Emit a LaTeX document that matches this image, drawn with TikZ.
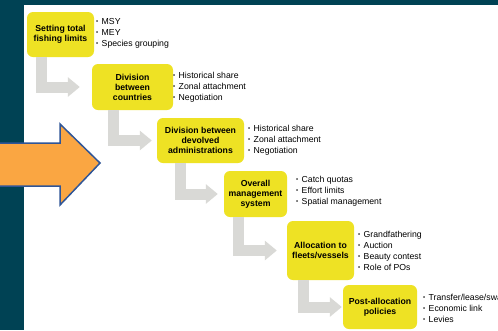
\documentclass[tikz,border=0pt]{standalone}
\usepackage{fontspec}
\setmainfont{Liberation Sans}
\usetikzlibrary{arrows.meta}

\definecolor{framebg}{RGB}{0,66,84}
\definecolor{stageyellow}{RGB}{238,226,36}
\definecolor{flowgray}{RGB}{217,217,214}
\definecolor{bigorange}{RGB}{250,166,66}
\definecolor{bigborder}{RGB}{47,85,151}

% small bullet used in the side lists
\newcommand{\dotitem}{\makebox[5.5pt][l]{\raisebox{0.15ex}{\fontsize{6}{6}\selectfont\textbullet}}}
\newcommand{\sidelist}[1]{\begin{tabular}{@{}l@{}}#1\end{tabular}}

\begin{document}
\begin{tikzpicture}[x=1pt,y=-1pt,
  stage/.style={fill=stageyellow, rounded corners=6pt, inner sep=0pt, align=center,
    font=\fontsize{8.7}{10}\selectfont\bfseries},
  notes/.style={anchor=west, inner sep=0pt, font=\fontsize{8.7}{11}\selectfont},
  flow/.style={draw=flowgray, line width=11pt, line join=miter,
    -{Triangle[width=19pt,length=12pt]}}
]
\useasboundingbox (0,0) rectangle (498,330);
\clip (0,0) rectangle (498,330);

% frame: dark band on the left and top, white canvas
\fill[framebg] (0,0) rectangle (498,330);
\fill[white] (24,5) rectangle (500,332);

% stages
\node[stage, minimum width=67pt, minimum height=45pt] (b1) at (60.5,34.5) {Setting total\\fishing limits};
\node[stage, minimum width=81pt, minimum height=46pt] (b2) at (132.5,87) {Division\\between\\countries};
\node[stage, minimum width=87pt, minimum height=45pt] (b3) at (200.5,140.5) {Division between\\devolved\\administrations};
\node[stage, minimum width=63pt, minimum height=46pt] (b4) at (255.5,194) {Overall\\management\\system};
\node[stage, minimum width=67pt, minimum height=59pt] (b5) at (320.5,250.5) {Allocation to\\fleets/vessels};
\node[stage, minimum width=74pt, minimum height=44pt] (b6) at (380,307) {Post-allocation\\policies};

% options listed beside each stage
\node[notes] (n1) at (96,33) {\sidelist{\dotitem MSY\\ \dotitem MEY\\ \dotitem Species grouping}};
\node[notes] (n2) at (173,87) {\sidelist{\dotitem Historical share\\ \dotitem Zonal attachment\\ \dotitem Negotiation}};
\node[notes] (n3) at (248,140) {\sidelist{\dotitem Historical share\\ \dotitem Zonal attachment\\ \dotitem Negotiation}};
\node[notes] (n4) at (296,191) {\sidelist{\dotitem Catch quotas\\ \dotitem Effort limits\\ \dotitem Spatial management}};
\node[notes] (n5) at (358,251.5) {\sidelist{\dotitem Grandfathering\\ \dotitem Auction\\ \dotitem Beauty contest\\ \dotitem Role of POs}};
\node[notes] (n6) at (423,309) {\sidelist{\dotitem Transfer/lease/swap\\ \dotitem Economic link\\ \dotitem Levies}};

% grey step arrows from one stage to the next
\draw[flow] ([xshift=15pt]b1.south west) |- ([xshift=-12pt]b2.west);
\draw[flow] ([xshift=22pt]b2.south west) |- ([xshift=-5pt]b3.west);
\draw[flow] ([xshift=24pt]b3.south west) |- ([xshift=-6pt]b4.west);
\draw[flow] ([xshift=15pt]b4.south west) |- ([xshift=-10pt]b5.west);
\draw[flow] ([xshift=17pt]b5.south west) |- ([xshift=-1pt]b6.west);

% large orange arrow entering from the left
\draw[fill=bigorange, draw=bigborder, line width=1.5pt, line join=miter]
  (-5,143) -- (60,143) -- (60,124) -- (100,163) -- (60,205) -- (60,186) -- (-5,186) -- cycle;
\end{tikzpicture}
\end{document}
